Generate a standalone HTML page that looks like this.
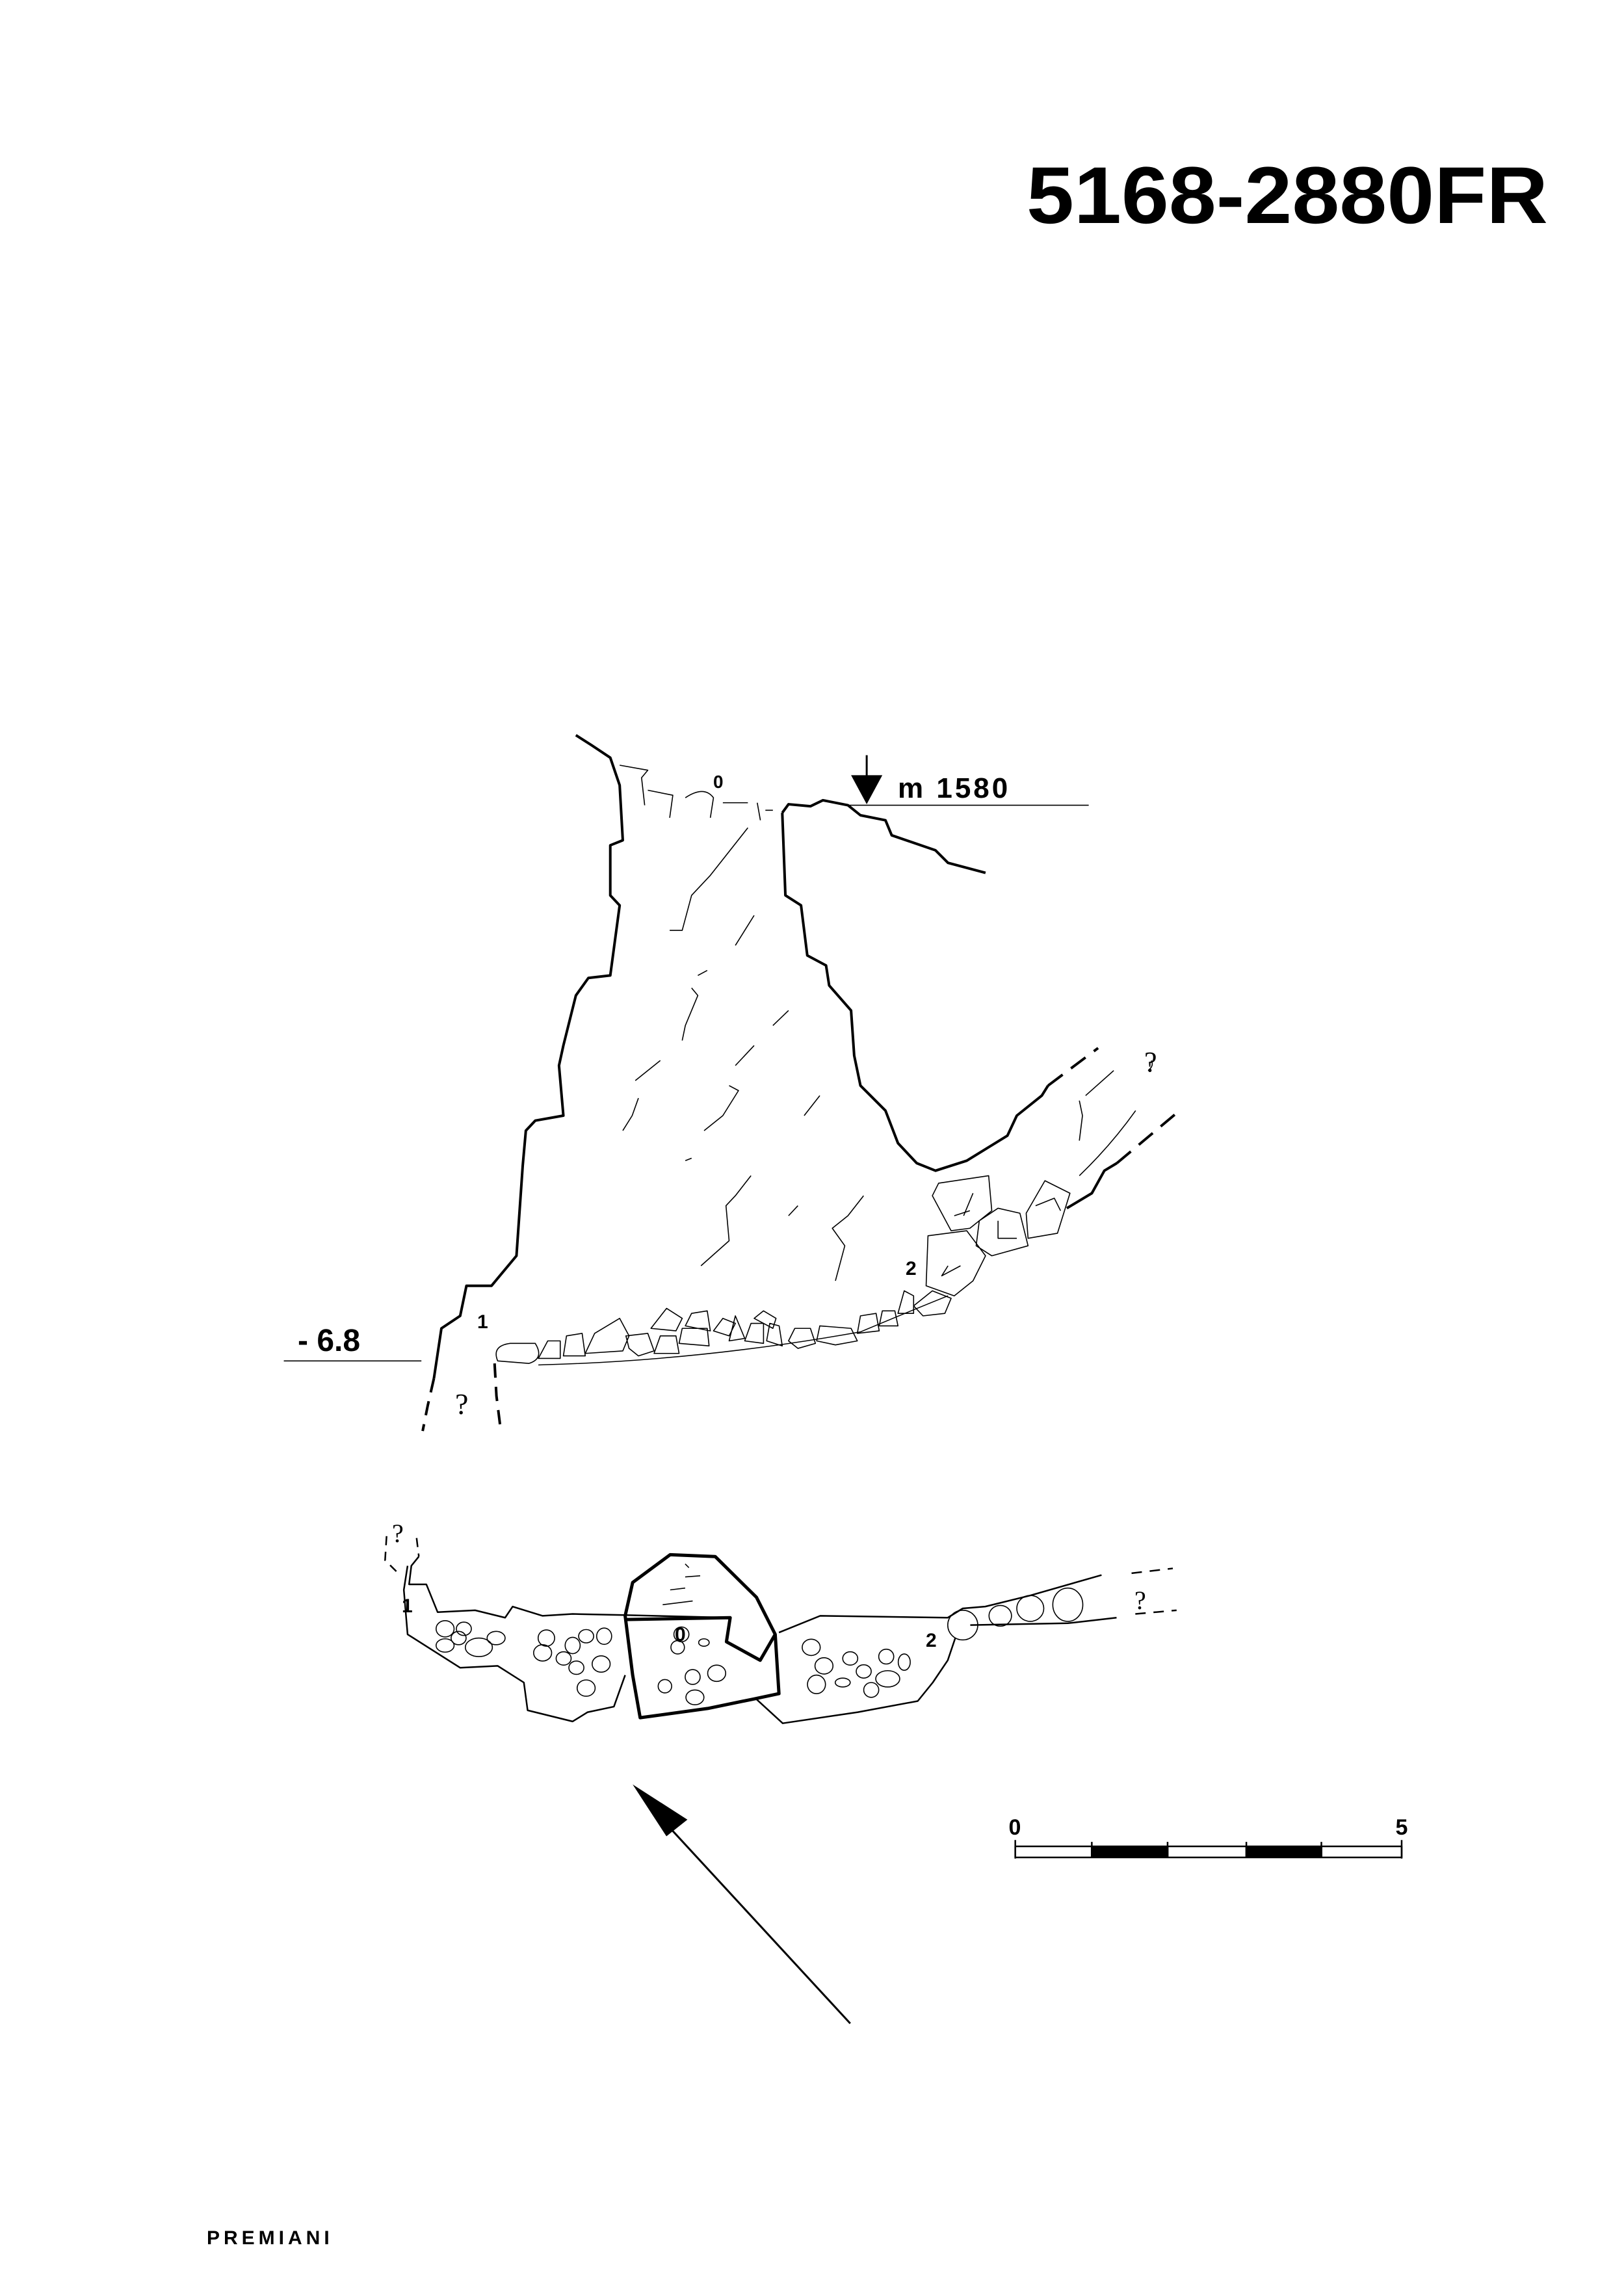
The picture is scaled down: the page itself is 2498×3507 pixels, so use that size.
<!DOCTYPE html>
<html><head><meta charset="utf-8"><style>
html,body{margin:0;padding:0;background:#fff}
svg{display:block}
</style></head><body>
<svg width="2498" height="3507" viewBox="0 0 2498 3507" xmlns="http://www.w3.org/2000/svg" font-family="Liberation Sans, sans-serif">
<rect width="2498" height="3507" fill="#fff"/>
<text x="1579" y="343" font-size="124" font-weight="bold" textLength="802" lengthAdjust="spacingAndGlyphs">5168-2880FR</text>
<text x="318" y="3452" font-size="30" font-weight="bold" letter-spacing="6">PREMIANI</text>

<!-- section view -->
<g transform="translate(400,1100) scale(0.962,0.77)" fill="none" stroke="#000" stroke-linejoin="round">
 <g stroke-width="4" vector-effect="non-scaling-stroke">
 <path vector-effect="non-scaling-stroke" d="M505,40 L530,60 L560,85 L575,140 L580,250 L560,260 L560,360 L575,380 L560,520 L525,525 L505,560 L485,660 L478,700 L485,800 L440,810 L425,830 L420,900 L410,1080 L370,1140 L330,1140 L320,1200 L290,1225 L278,1325"/>
 <path vector-effect="non-scaling-stroke" stroke-dasharray="22,14" d="M278,1325 L268,1380 L260,1430"/>
 <path vector-effect="non-scaling-stroke" stroke-dasharray="22,14" d="M375,1295 L378,1360 L385,1430"/>
 <path vector-effect="non-scaling-stroke" d="M835,195 L845,178 L880,182 L900,170 L940,180 L960,200 L1000,210 L1010,240 L1080,270 L1100,295 L1160,315"/>
 <path vector-effect="non-scaling-stroke" d="M835,195 L840,360 L865,380 L875,480 L905,500 L910,540 L945,590 L950,680 L960,740 L1000,790 L1020,855 L1050,895 L1080,910 L1130,890 L1195,840 L1210,800 L1250,760 L1260,740"/>
 <path vector-effect="non-scaling-stroke" stroke-dasharray="28,16" d="M1260,740 L1340,665"/>
 <path vector-effect="non-scaling-stroke" d="M1290,985 L1330,955 L1350,910 L1370,895"/>
 <path vector-effect="non-scaling-stroke" stroke-dasharray="28,16" d="M1370,895 L1475,785"/>
 </g>
 <g stroke-width="1.6">
 <path vector-effect="non-scaling-stroke" d="M575,100 L620,110 L610,125 L615,180 M620,150 L660,160 L655,205 M680,165 Q710,140 725,165 L720,205 M740,175 L780,175 M795,175 L800,210 M808,190 L820,190"/>
 <path vector-effect="non-scaling-stroke" d="M780,225 L720,320 L690,360 L675,430 L655,430 M790,400 L760,460 M715,510 L700,520 M690,545 L700,560 L680,620 L675,650 M845,590 L820,620 M790,660 L760,700 M640,690 L600,730 M750,740 L765,750 L740,800 L710,830 M605,765 L595,800 L580,830 M895,760 L870,800 M680,890 L690,885 M785,920 L760,960 L745,980 L750,1050 L705,1100 M965,960 L940,1000 L915,1025 L935,1060 L920,1130 M860,980 L845,1000 M1310,920 Q1360,860 1400,790 M1310,770 L1315,800 L1310,850 M1425,690 Q1430,700 1420,710 M1365,710 L1320,760"/>
 <path vector-effect="non-scaling-stroke" d="M1085,935 L1165,920 L1170,990 L1135,1025 L1105,1030 L1075,960 Z M1140,955 L1125,1000 M1110,1000 L1135,990 M1068,1040 L1130,1030 L1160,1080 L1140,1130 L1110,1160 L1065,1140 Z M1100,1100 L1090,1120 L1120,1100 M1150,1010 L1180,985 L1215,995 L1228,1060 L1170,1080 L1145,1060 Z M1180,1010 L1180,1045 L1210,1045 M1225,995 L1255,930 L1295,955 L1275,1035 L1228,1045 Z M1240,980 L1270,965 L1280,990 M1075,1150 L1105,1165 L1095,1195 L1060,1200 L1045,1180 Z"/>
 <path vector-effect="non-scaling-stroke" d="M380,1290 Q370,1260 400,1255 L440,1255 Q455,1285 430,1295 Z M445,1285 L460,1250 L480,1250 L480,1285 Z M485,1280 L490,1240 L515,1235 L520,1280 Z M520,1275 L535,1235 L575,1205 L590,1240 L580,1270 Z M590,1265 L585,1240 L620,1235 L630,1270 L605,1280 Z M630,1275 L640,1240 L665,1240 L670,1275 Z M625,1225 L650,1185 L675,1205 L665,1230 Z M670,1255 L675,1225 L715,1225 L718,1260 Z M680,1220 L690,1195 L715,1190 L720,1230 Z M725,1230 L740,1205 L760,1215 L750,1240 Z M750,1250 L760,1200 L775,1245 Z M775,1250 L785,1215 L805,1215 L805,1255 Z M790,1205 L805,1190 L825,1205 L820,1225 Z M810,1250 L815,1215 L830,1220 L835,1260 Z M845,1250 L855,1225 L880,1225 L888,1255 L860,1265 Z M890,1250 L895,1220 L945,1225 L955,1250 L920,1258 Z M955,1235 L960,1200 L985,1195 L990,1230 Z M990,1220 L995,1190 L1015,1190 L1020,1220 Z M1020,1195 L1030,1150 L1045,1160 L1045,1195 Z"/>
 </g>
 <path vector-effect="non-scaling-stroke" stroke-width="1.5" d="M445,1298 Q700,1290 960,1232 Q1050,1185 1100,1160"/>
 <line vector-effect="non-scaling-stroke" stroke-width="1.6" x1="940" y1="180" x2="1325" y2="180"/>
 <line vector-effect="non-scaling-stroke" stroke-width="1.6" x1="38" y1="1290" x2="258" y2="1290"/>
 <line vector-effect="non-scaling-stroke" stroke-width="3" x1="970" y1="80" x2="970" y2="140"/>
 <path d="M945,120 L995,120 L970,178 Z" fill="#000" stroke="none"/>
</g>
<text x="1381" y="1227" font-size="44" font-weight="bold" letter-spacing="4">m 1580</text>
<text x="1097" y="1212" font-size="28" font-weight="bold">0</text>
<text x="458" y="2078" font-size="48" font-weight="bold">- 6.8</text>
<text x="734" y="2043" font-size="30" font-weight="bold">1</text>
<text x="1393" y="1961" font-size="30" font-weight="bold">2</text>
<text x="700" y="2175" font-size="46" font-family="Liberation Serif, serif">?</text>
<text x="1760" y="1648" font-size="44" font-family="Liberation Serif, serif">?</text>

<!-- plan view -->
<g transform="translate(500,2303) scale(1.154,0.57)" fill="none" stroke="#000" stroke-linejoin="round">
 <g stroke-width="2.5">
 <path vector-effect="non-scaling-stroke" stroke-dasharray="14,10" d="M82,105 L80,170 L95,200 M122,110 L125,160"/>
 <path vector-effect="non-scaling-stroke" d="M110,185 L105,250 L110,370 L180,460 L230,455 L265,500 L270,575 L330,605 L350,580 L385,565 L400,480 M125,160 L115,185 L112,235 L135,235 L150,310 L200,305 L240,325 L250,295 L290,320 L330,315 L400,318 L540,325 M605,365 L660,320 L830,325 L850,300 L880,295 L940,265 L1035,210 M840,380 L830,440 L810,500 L790,550 L710,580 L610,610 L575,545 M860,345 L990,340 L1055,325"/>
 </g>
 <path vector-effect="non-scaling-stroke" stroke-width="5" d="M400,320 L410,230 L460,155 L520,160 L575,270 L600,370 L605,530 L570,545 L510,570 L420,595 L410,480 Z M400,330 L540,325 L535,390 L580,440 L600,370"/>
 <path vector-effect="non-scaling-stroke" stroke-width="2.5" stroke-dasharray="16,12" d="M1075,205 L1130,192 M1080,315 L1135,305"/>
 <g stroke-width="1.6">
 <path vector-effect="non-scaling-stroke" d="M480,180 L485,190 M480,215 L500,212 M450,290 L490,280 M460,250 L480,245"/>
 <g>
 <ellipse vector-effect="non-scaling-stroke" cx="160" cy="355" rx="12" ry="22"/><ellipse vector-effect="non-scaling-stroke" cx="185" cy="355" rx="10" ry="18"/><ellipse vector-effect="non-scaling-stroke" cx="178" cy="380" rx="10" ry="18"/><ellipse vector-effect="non-scaling-stroke" cx="160" cy="400" rx="12" ry="18"/><ellipse vector-effect="non-scaling-stroke" cx="205" cy="405" rx="18" ry="25"/><ellipse vector-effect="non-scaling-stroke" cx="228" cy="380" rx="12" ry="18"/>
 <ellipse vector-effect="non-scaling-stroke" cx="295" cy="380" rx="11" ry="22"/><ellipse vector-effect="non-scaling-stroke" cx="290" cy="420" rx="12" ry="22"/><ellipse vector-effect="non-scaling-stroke" cx="330" cy="400" rx="10" ry="22"/><ellipse vector-effect="non-scaling-stroke" cx="348" cy="375" rx="10" ry="18"/><ellipse vector-effect="non-scaling-stroke" cx="372" cy="375" rx="10" ry="22"/><ellipse vector-effect="non-scaling-stroke" cx="318" cy="435" rx="10" ry="18"/><ellipse vector-effect="non-scaling-stroke" cx="335" cy="460" rx="10" ry="18"/><ellipse vector-effect="non-scaling-stroke" cx="368" cy="450" rx="12" ry="22"/><ellipse vector-effect="non-scaling-stroke" cx="348" cy="515" rx="12" ry="22"/>
 <ellipse vector-effect="non-scaling-stroke" cx="475" cy="370" rx="10" ry="20"/><ellipse vector-effect="non-scaling-stroke" cx="505" cy="392" rx="7" ry="10"/><ellipse vector-effect="non-scaling-stroke" cx="470" cy="405" rx="9" ry="18"/><ellipse vector-effect="non-scaling-stroke" cx="490" cy="485" rx="10" ry="20"/><ellipse vector-effect="non-scaling-stroke" cx="522" cy="475" rx="12" ry="22"/><ellipse vector-effect="non-scaling-stroke" cx="453" cy="510" rx="9" ry="18"/><ellipse vector-effect="non-scaling-stroke" cx="493" cy="540" rx="12" ry="20"/>
 <ellipse vector-effect="non-scaling-stroke" cx="648" cy="405" rx="12" ry="22"/><ellipse vector-effect="non-scaling-stroke" cx="665" cy="455" rx="12" ry="22"/><ellipse vector-effect="non-scaling-stroke" cx="655" cy="505" rx="12" ry="25"/><ellipse vector-effect="non-scaling-stroke" cx="690" cy="500" rx="10" ry="12"/><ellipse vector-effect="non-scaling-stroke" cx="700" cy="435" rx="10" ry="18"/><ellipse vector-effect="non-scaling-stroke" cx="718" cy="470" rx="10" ry="18"/><ellipse vector-effect="non-scaling-stroke" cx="748" cy="430" rx="10" ry="20"/><ellipse vector-effect="non-scaling-stroke" cx="772" cy="445" rx="8" ry="22"/><ellipse vector-effect="non-scaling-stroke" cx="750" cy="490" rx="16" ry="22"/><ellipse vector-effect="non-scaling-stroke" cx="728" cy="520" rx="10" ry="20"/>
 <ellipse vector-effect="non-scaling-stroke" cx="850" cy="345" rx="20" ry="40"/><ellipse vector-effect="non-scaling-stroke" cx="900" cy="320" rx="15" ry="28"/><ellipse vector-effect="non-scaling-stroke" cx="940" cy="300" rx="18" ry="35"/><ellipse vector-effect="non-scaling-stroke" cx="990" cy="290" rx="20" ry="45"/>
 </g>
 </g>
 <!-- arrow -->
 <line vector-effect="non-scaling-stroke" stroke-width="3" x1="700" y1="1420" x2="445" y2="860"/>
 <path d="M410,775 L455,915 L483,870 Z" fill="#000" stroke="none"/>
 <!-- scale bar -->
 <g stroke-width="2.5">
 <rect vector-effect="non-scaling-stroke" x="920" y="942" width="515" height="30"/>
 <rect x="1022" y="942" width="101" height="30" fill="#000"/>
 <rect x="1228" y="942" width="100" height="30" fill="#000"/>
 <path vector-effect="non-scaling-stroke" d="M920,925 L920,975 M1435,925 L1435,975 M1022,930 L1022,972 M1123,930 L1123,972 M1228,930 L1228,972 M1328,930 L1328,972"/>
 </g>
</g>
<text x="618" y="2480" font-size="30" font-weight="bold">1</text>
<text x="1424" y="2533" font-size="30" font-weight="bold">2</text>
<text x="1038" y="2524" font-size="30" font-weight="bold">0</text>
<text x="603" y="2372" font-size="40" font-family="Liberation Serif, serif">?</text>
<text x="1745" y="2475" font-size="40" font-family="Liberation Serif, serif">?</text>
<text x="1561" y="2822" font-size="34" font-weight="bold" text-anchor="middle">0</text>
<text x="2156" y="2822" font-size="34" font-weight="bold" text-anchor="middle">5</text>
</svg>
</body></html>
